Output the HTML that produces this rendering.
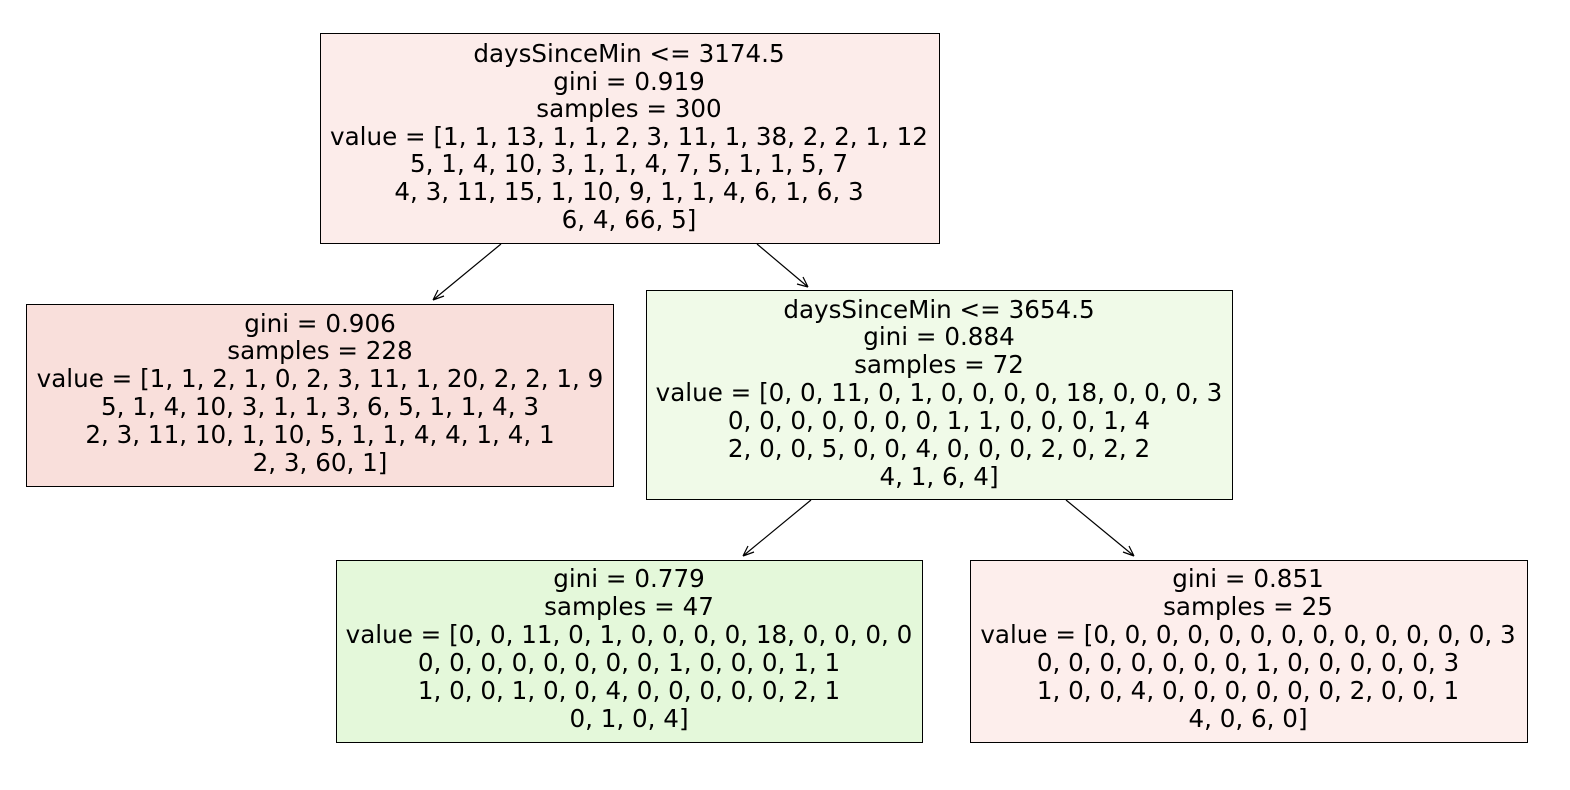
<!DOCTYPE html>
<html><head><meta charset="utf-8"><style>html,body{margin:0;padding:0;background:#fff}svg{display:block}</style></head><body>
<svg width="1570" height="790" xmlns="http://www.w3.org/2000/svg" font-family="DejaVu Sans, sans-serif" font-size="24.6" text-anchor="middle" fill="#000">
<g stroke="#000" stroke-width="1">
<rect x="320.5" y="33.5" width="619" height="210" fill="#fcecea"/>
<rect x="26.5" y="304.5" width="587" height="182" fill="#f9dfdb"/>
<rect x="646.5" y="290.5" width="586" height="209" fill="#f0fae8"/>
<rect x="336.5" y="560.5" width="586" height="182" fill="#e4f8da"/>
<rect x="970.5" y="560.5" width="557" height="182" fill="#fdeeec"/>
</g>
<g stroke="#000" stroke-width="1.2" fill="none">
<path d="M501 244 L433 300 M433 300 L438 290 M433 300 L444 296"/>
<path d="M757 244 L808 287 M808 287 L797 284 M808 287 L803 277"/>
<path d="M811 500 L743 556 M743 556 L748 546 M743 556 L754 552"/>
<path d="M1066 500 L1134 556 M1134 556 L1123 552 M1134 556 L1129 546"/>
</g>
<g>
<text x="629" y="62">daysSinceMin &lt;= 3174.5</text>
<text x="629" y="90">gini = 0.919</text>
<text x="629" y="117">samples = 300</text>
<text x="629" y="145">value = [1, 1, 13, 1, 1, 2, 3, 11, 1, 38, 2, 2, 1, 12</text>
<text x="629" y="172">5, 1, 4, 10, 3, 1, 1, 4, 7, 5, 1, 1, 5, 7</text>
<text x="629" y="200">4, 3, 11, 15, 1, 10, 9, 1, 1, 4, 6, 1, 6, 3</text>
<text x="629" y="228">6, 4, 66, 5]</text>

<text x="320" y="332">gini = 0.906</text>
<text x="320" y="359">samples = 228</text>
<text x="320" y="387">value = [1, 1, 2, 1, 0, 2, 3, 11, 1, 20, 2, 2, 1, 9</text>
<text x="320" y="415">5, 1, 4, 10, 3, 1, 1, 3, 6, 5, 1, 1, 4, 3</text>
<text x="320" y="443">2, 3, 11, 10, 1, 10, 5, 1, 1, 4, 4, 1, 4, 1</text>
<text x="320" y="471">2, 3, 60, 1]</text>

<text x="939" y="318">daysSinceMin &lt;= 3654.5</text>
<text x="939" y="345">gini = 0.884</text>
<text x="939" y="373">samples = 72</text>
<text x="939" y="401">value = [0, 0, 11, 0, 1, 0, 0, 0, 0, 18, 0, 0, 0, 3</text>
<text x="939" y="429">0, 0, 0, 0, 0, 0, 0, 1, 1, 0, 0, 0, 1, 4</text>
<text x="939" y="457">2, 0, 0, 5, 0, 0, 4, 0, 0, 0, 2, 0, 2, 2</text>
<text x="939" y="485">4, 1, 6, 4]</text>

<text x="629" y="587">gini = 0.779</text>
<text x="629" y="615">samples = 47</text>
<text x="629" y="643">value = [0, 0, 11, 0, 1, 0, 0, 0, 0, 18, 0, 0, 0, 0</text>
<text x="629" y="671">0, 0, 0, 0, 0, 0, 0, 0, 1, 0, 0, 0, 1, 1</text>
<text x="629" y="699">1, 0, 0, 1, 0, 0, 4, 0, 0, 0, 0, 0, 2, 1</text>
<text x="629" y="727">0, 1, 0, 4]</text>

<text x="1248" y="587">gini = 0.851</text>
<text x="1248" y="615">samples = 25</text>
<text x="1248" y="643">value = [0, 0, 0, 0, 0, 0, 0, 0, 0, 0, 0, 0, 0, 3</text>
<text x="1248" y="671">0, 0, 0, 0, 0, 0, 0, 1, 0, 0, 0, 0, 0, 3</text>
<text x="1248" y="699">1, 0, 0, 4, 0, 0, 0, 0, 0, 0, 2, 0, 0, 1</text>
<text x="1248" y="727">4, 0, 6, 0]</text>
</g>
</svg>
</body></html>
